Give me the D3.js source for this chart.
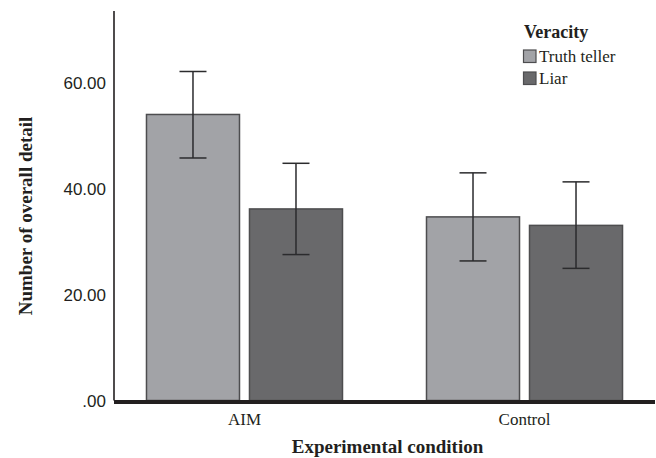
<!DOCTYPE html>
<html><head><meta charset="utf-8">
<script src="https://cdn.jsdelivr.net/npm/d3@7"></script>
<style>body{margin:0;background:#fff}svg{display:block}</style>
</head><body>
<svg id="chart" width="656" height="458"></svg>
<script>
const conditions = ["AIM", "Control"];
const series = ["Truth teller", "Liar"];
const means = [[53.9, 36.1], [34.6, 33.0]];
const errLow = [[45.7, 27.5], [26.3, 24.9]];
const errHigh = [[62.0, 44.7], [42.9, 41.2]];
const yTicks = [0, 20, 40, 60];
const yTickLabels = [".00", "20.00", "40.00", "60.00"];
const colors = ["#a2a3a7", "#69696b"];

const svg = d3.select("#chart");
const mLeft = 114, mRight = 655, mTop = 11, mBottom = 400.5;
const y = d3.scaleLinear().domain([0, 73.4]).range([mBottom, mTop]);
const x0 = d3.scaleBand().domain(conditions).range([mLeft, mRight]).paddingInner(0.3).paddingOuter(0.116);
const x1 = d3.scaleBand().domain(series).range([0, x0.bandwidth()]).paddingInner(0.097);

const serif = "'Liberation Serif','Times New Roman',serif";
const sans = "'Liberation Sans',Arial,sans-serif";

// y axis
const yAxis = d3.axisLeft(y).tickValues(yTicks).tickSize(0).tickPadding(8)
  .tickFormat((d, i) => yTickLabels[i]);
const gy = svg.append("g").attr("transform", `translate(${mLeft},0)`).call(yAxis);
gy.select(".domain").remove();
gy.selectAll("text").attr("font-family", sans).attr("font-size", 17).attr("fill", "#231f20").attr("dy", "0.35em");
svg.append("line").attr("x1", mLeft).attr("x2", mLeft).attr("y1", mTop).attr("y2", mBottom)
  .attr("stroke", "#231f20").attr("stroke-width", 1.6);

// bars
const groups = svg.append("g").selectAll("g").data(conditions).join("g")
  .attr("transform", d => `translate(${x0(d)},0)`);
groups.each(function(c, ci) {
  const g = d3.select(this);
  series.forEach((s, si) => {
    g.append("rect")
      .attr("x", x1(s)).attr("width", x1.bandwidth())
      .attr("y", y(means[ci][si])).attr("height", y(0) - y(means[ci][si]))
      .attr("fill", colors[si]).attr("stroke", "#4d4d4f").attr("stroke-width", 1.5);
  });
  series.forEach((s, si) => {
    const cx = x1(s) + x1.bandwidth() / 2;
    const hw = 13.5;
    const e = g.append("g").attr("stroke", "#2b2b2d").attr("stroke-width", 1.5);
    e.append("line").attr("x1", cx).attr("x2", cx).attr("y1", y(errHigh[ci][si])).attr("y2", y(errLow[ci][si]));
    e.append("line").attr("x1", cx - hw).attr("x2", cx + hw).attr("y1", y(errHigh[ci][si])).attr("y2", y(errHigh[ci][si]));
    e.append("line").attr("x1", cx - hw).attr("x2", cx + hw).attr("y1", y(errLow[ci][si])).attr("y2", y(errLow[ci][si]));
  });
});

// baseline
svg.append("line").attr("x1", mLeft).attr("x2", mRight).attr("y1", y(0) + 1.5).attr("y2", y(0) + 1.5)
  .attr("stroke", "#231f20").attr("stroke-width", 4);

// x axis labels
const xAxis = d3.axisBottom(x0).tickSize(0).tickPadding(0);
const gx = svg.append("g").attr("transform", `translate(0,${y(0)})`).call(xAxis);
gx.select(".domain").remove();
gx.selectAll("text").attr("font-family", serif).attr("font-size", 17).attr("fill", "#231f20")
  .attr("dy", 0).attr("y", 24.5);

// axis titles
svg.append("text").attr("x", (mLeft + mRight) / 2 + 3).attr("y", 453).attr("text-anchor", "middle")
  .attr("font-family", serif).attr("font-weight", "bold").attr("font-size", 19).attr("fill", "#231f20")
  .text("Experimental condition");
svg.append("text").attr("transform", "translate(32,216) rotate(-90)").attr("text-anchor", "middle")
  .attr("font-family", serif).attr("font-weight", "bold").attr("font-size", 19).attr("fill", "#231f20")
  .text("Number of overall detail");

// legend
const lg = svg.append("g");
lg.append("text").attr("x", 524).attr("y", 38).attr("font-family", serif).attr("font-weight", "bold")
  .attr("font-size", 18).attr("fill", "#231f20").text("Veracity");
series.forEach((s, i) => {
  lg.append("rect").attr("x", 523.5).attr("y", 50 + i * 22).attr("width", 12.5).attr("height", 12.5)
    .attr("fill", colors[i]).attr("stroke", "#4d4d4f").attr("stroke-width", 1.2);
  lg.append("text").attr("x", 539).attr("y", 62 + i * 22).attr("font-family", serif)
    .attr("font-size", 17).attr("fill", "#231f20").text(s);
});
</script>
</body></html>
